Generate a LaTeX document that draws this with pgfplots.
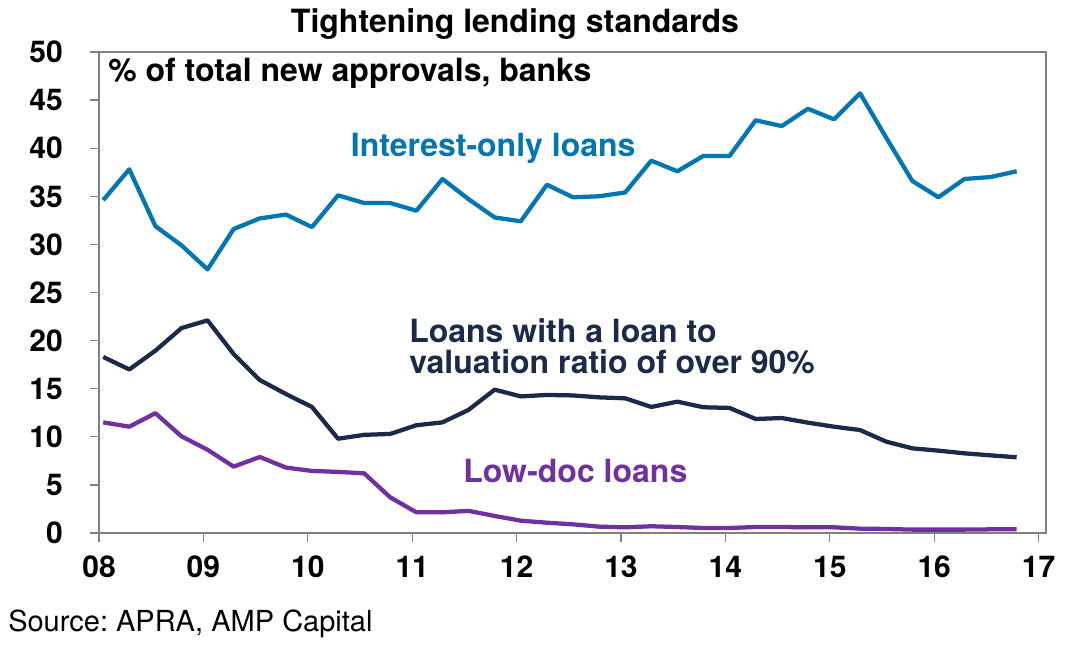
\documentclass[border=0pt]{standalone}
\usepackage{fontspec}
\setmainfont{TeX Gyre Heros}
\usepackage{pgfplots}
\pgfplotsset{compat=1.18}
\usepackage{pgfplotstable}
\definecolor{ioblue}{RGB}{0,119,176}
\definecolor{lvrnavy}{RGB}{27,42,72}
\definecolor{ldpurple}{RGB}{112,48,160}
\definecolor{axgray}{RGB}{128,128,128}
\pgfplotstableread{
x io lvr ld
8.04 34.6 18.3 11.5
8.29 37.8 17.0 11.05
8.54 31.9 18.95 12.45
8.79 29.9 21.3 10.05
9.04 27.4 22.1 8.65
9.29 31.6 18.6 6.9
9.54 32.7 15.9 7.9
9.79 33.1 14.45 6.8
10.04 31.8 13.1 6.45
10.29 35.1 9.8 6.35
10.54 34.3 10.2 6.2
10.79 34.3 10.3 3.7
11.04 33.5 11.2 2.15
11.29 36.8 11.5 2.15
11.54 34.7 12.8 2.3
11.79 32.8 14.9 1.77
12.04 32.4 14.2 1.28
12.29 36.2 14.35 1.07
12.54 34.9 14.3 0.9
12.79 35.0 14.1 0.66
13.04 35.4 14.0 0.59
13.29 38.7 13.1 0.7
13.54 37.6 13.65 0.62
13.79 39.2 13.07 0.52
14.04 39.2 13.0 0.52
14.29 42.9 11.85 0.62
14.54 42.3 11.95 0.62
14.79 44.1 11.47 0.59
15.04 43.0 11.05 0.59
15.29 45.7 10.7 0.45
15.54 41.1 9.5 0.42
15.79 36.6 8.8 0.35
16.04 34.9 8.56 0.35
16.29 36.8 8.28 0.35
16.54 37.0 8.07 0.38
16.79 37.6 7.87 0.38
}\datatable
\newcommand{\lab}{\fontsize{24}{28}\selectfont\bfseries}
\frenchspacing
\begin{document}
\begin{tikzpicture}
\useasboundingbox (0,0) rectangle (801pt,486.75pt);
\begin{axis}[
  at={(74.25pt,87pt)}, anchor=south west,
  scale only axis, width=710.25pt, height=360.75pt,
  xmin=8, xmax=17.071, ymin=0, ymax=50,
  xtick={8,...,17}, xticklabels={08,09,10,11,12,13,14,15,16,17},
  ytick={0,5,...,50},
  tick align=outside, major tick length=7pt,
  xtick pos=bottom, ytick pos=left,
  tick style={draw=axgray, line width=1pt},
  axis line style={draw=axgray, line width=1.1pt},
  /pgf/number format/assume math mode=true,
  ticklabel style={font=\fontsize{22.5}{27}\selectfont\bfseries, inner sep=0pt},
  yticklabel style={anchor=east, xshift=-20pt},
  xticklabel style={anchor=north, yshift=-10pt},
  clip=false,
]
\addplot[ioblue, line width=3.2pt, line join=round] table[x=x, y=io] {\datatable};
\addplot[lvrnavy, line width=3.2pt, line join=round] table[x=x, y=lvr] {\datatable};
\addplot[ldpurple, line width=3.2pt, line join=round] table[x=x, y=ld] {\datatable};
\end{axis}
\node[anchor=base, font=\fontsize{24}{28}\selectfont\bfseries] at (386.25pt,462pt) {Tightening lending standards};
\node[anchor=base west, inner sep=0pt, font=\lab] at (81pt,425.25pt) {\% of total new approvals, banks};
\node[anchor=base west, inner sep=0pt, font=\lab, text=ioblue] at (263pt,369pt) {Interest-only loans};
\node[anchor=base west, inner sep=0pt, font=\lab, text=lvrnavy] at (306.75pt,229.5pt) {Loans with a loan to};
\node[anchor=base west, inner sep=0pt, font=\lab, text=lvrnavy] at (306.75pt,206.25pt) {valuation ratio of over 90\%};
\node[anchor=base west, inner sep=0pt, font=\lab, text=ldpurple] at (347.25pt,124.5pt) {Low-doc loans};
\node[anchor=base west, inner sep=0pt, font=\fontsize{21.75}{26}\selectfont] at (6pt,12.75pt) {Source: APRA, AMP Capital};
\end{tikzpicture}
\end{document}
